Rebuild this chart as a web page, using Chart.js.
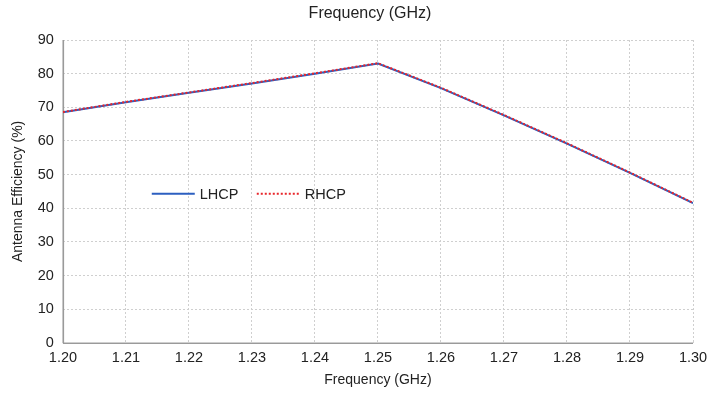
<!DOCTYPE html>
<html>
<head>
<meta charset="utf-8">
<script src="https://cdn.jsdelivr.net/npm/chart.js@4.4.0/dist/chart.umd.min.js"></script>
<style>
  html, body { margin: 0; padding: 0; background: #fff; }
  #wrap { width: 711px; height: 394px; position: relative; }
</style>
</head>
<body>
<div id="wrap"><canvas id="effChart"></canvas></div>
<script>
// frequency sweep (GHz) and efficiency for each polarisation (%)
const freqs = [1.20, 1.21, 1.22, 1.23, 1.24, 1.25, 1.26, 1.27, 1.28, 1.29, 1.30];
const lhcp = [68.5, 71.5, 74.3, 77.1, 80.0, 83.0, 75.7, 67.6, 59.2, 50.5, 41.5];
const rhcp = [68.6, 71.6, 74.4, 77.2, 80.1, 83.1, 75.8, 67.7, 59.3, 50.6, 41.6];
const yTicks = [0, 10, 20, 30, 40, 50, 60, 70, 80, 90];
const chartTitle = 'Frequency (GHz)';

const FONT = "'Liberation Sans', Arial, sans-serif";

// legend drawn inside the plot area
const innerLegend = {
    id: 'innerLegend',
    afterDatasetsDraw(chart) {
        const ctx = chart.ctx;
        const xs = chart.scales.x, ys = chart.scales.y;
        let x = xs.getPixelForValue(1.2141);
        const y = ys.getPixelForValue(44.3);
        ctx.save();
        ctx.font = '14.5px ' + FONT;
        ctx.textBaseline = 'middle';
        // same order as the datasets: LHCP then RHCP
        [...chart.data.datasets].sort((a, b) => b.order - a.order).forEach(ds => {
            ctx.beginPath();
            ctx.strokeStyle = ds.borderColor;
            ctx.lineWidth = ds.borderWidth;
            ctx.setLineDash(ds.borderDash || []);
            ctx.moveTo(x, y);
            ctx.lineTo(x + 43, y);
            ctx.stroke();
            ctx.setLineDash([]);
            ctx.fillStyle = '#222';
            ctx.fillText(ds.label, x + 48, y + 1);
            x += 105;
        });
        ctx.restore();
    }
};

// solid left and bottom axis lines (grid lines stay dotted)
const solidAxes = {
    id: 'solidAxes',
    beforeDatasetsDraw(chart) {
        const a = chart.chartArea, ctx = chart.ctx;
        ctx.save();
        ctx.strokeStyle = '#9a9a9a';
        ctx.lineWidth = 1.2;
        ctx.beginPath();
        ctx.moveTo(Math.round(a.left) + 0.5, a.top);
        ctx.lineTo(Math.round(a.left) + 0.5, Math.round(a.bottom) + 0.5);
        ctx.lineTo(a.right, Math.round(a.bottom) + 0.5);
        ctx.stroke();
        ctx.restore();
    }
};

// top title, centred a little right of the canvas middle
const topTitle = {
    id: 'topTitle',
    afterDraw(chart) {
        const ctx = chart.ctx;
        ctx.save();
        ctx.font = '16px ' + FONT;
        ctx.fillStyle = '#222';
        ctx.textAlign = 'center';
        ctx.textBaseline = 'middle';
        ctx.fillText(chartTitle, (chart.chartArea.left + chart.chartArea.right) / 2 - 8, 14);
        ctx.restore();
    }
};

new Chart(document.getElementById('effChart'), {
    type: 'line',
    data: {
        datasets: [
            {
                label: 'LHCP',
                data: freqs.map((f, i) => ({x: f, y: lhcp[i]})),
                borderColor: '#2c5fc0',
                borderWidth: 2,
                pointRadius: 0,
                tension: 0,
                order: 2
            },
            {
                label: 'RHCP',
                data: freqs.map((f, i) => ({x: f, y: rhcp[i]})),
                borderColor: '#e8262b',
                borderWidth: 2,
                borderDash: [2, 2],
                pointRadius: 0,
                tension: 0,
                order: 1
            }
        ]
    },
    options: {
        responsive: true,
        maintainAspectRatio: false,
        animation: false,
        layout: { padding: { left: 10, right: 2, top: 40, bottom: 5 } },
        scales: {
            x: {
                type: 'linear',
                min: 1.2,
                max: 1.3,
                afterFit: scale => { scale.paddingRight = 18; },
                ticks: {
                    stepSize: 0.01,
                    color: '#222',
                    font: { family: FONT, size: 14.5 },
                    maxRotation: 0,
                    padding: 6,
                    callback: v => v.toFixed(2)
                },
                grid: {
                    color: '#cfcfcf',
                    drawTicks: false
                },
                border: { display: true, color: '#cfcfcf', width: 1, dash: [2, 2] },
                title: {
                    display: true,
                    text: 'Frequency (GHz)',
                    color: '#222',
                    font: { family: FONT, size: 14 },
                    padding: { top: 0, bottom: 0 }
                }
            },
            y: {
                min: 0,
                max: 90,
                afterBuildTicks: axis => { axis.ticks = yTicks.map(v => ({value: v})); },
                ticks: {
                    color: '#222',
                    font: { family: FONT, size: 14.5 },
                    padding: 9
                },
                grid: {
                    color: '#cfcfcf',
                    drawTicks: false
                },
                border: { display: true, color: '#cfcfcf', width: 1, dash: [2, 2] },
                title: {
                    display: true,
                    text: 'Antenna Efficiency (%)',
                    color: '#222',
                    font: { family: FONT, size: 14 },
                    padding: { top: 0, bottom: 2 }
                }
            }
        },
        plugins: {
            legend: { display: false },
            tooltip: { enabled: false },
            title: { display: false }
        }
    },
    plugins: [solidAxes, innerLegend, topTitle]
});
</script>
</body>
</html>
